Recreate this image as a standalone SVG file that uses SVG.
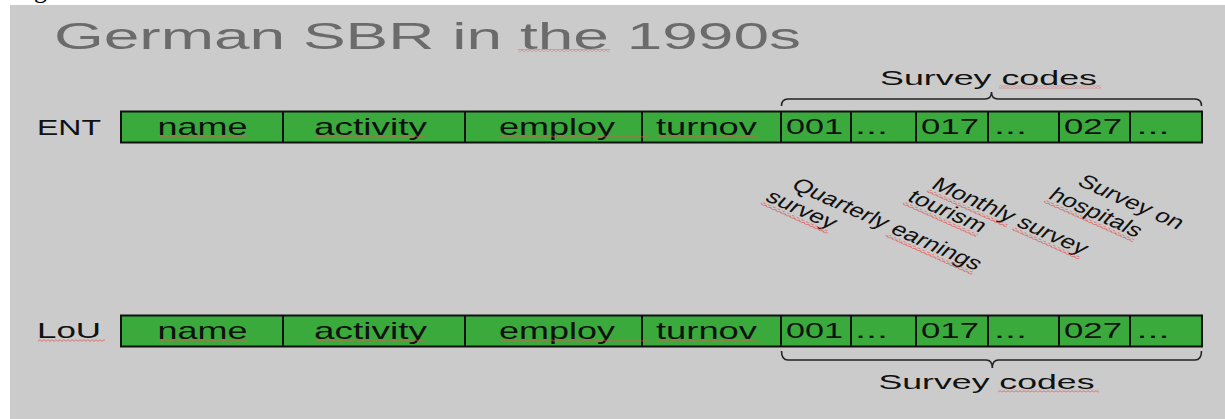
<svg xmlns="http://www.w3.org/2000/svg" width="1225" height="419" viewBox="0 0 1225 419">
  <defs>
    <!-- red wavy underline used under flagged words -->
    <pattern id="wave" patternUnits="userSpaceOnUse" width="4" height="3">
      <path d="M0,0.6 L2,2.4 L4,0.6" fill="none" stroke="#e05555" stroke-width="0.8"/>
    </pattern>
  </defs>
  <style>
    .bg { fill: #cbcbcb; }
    .title { font-family: "Liberation Sans", Arial, sans-serif; font-size: 37px; fill: #6b6b6b; }
    .lbl { font-family: "Liberation Sans", Arial, sans-serif; font-size: 22.5px; fill: #111; }
    .cell { fill: #39aa3b; stroke: #111; stroke-width: 2; }
    .div { stroke: #111; stroke-width: 2; }
    .ct { font-family: "Liberation Sans", Arial, sans-serif; font-size: 24px; fill: #111; }
    .code { font-family: "Liberation Sans", Arial, sans-serif; font-size: 22px; fill: #111; }
    .brace { fill: none; stroke: #222; stroke-width: 1.6; }
    .bt { font-family: "Liberation Sans", Arial, sans-serif; font-size: 21px; fill: #111; }
    .rot { font-family: "Liberation Sans", Arial, sans-serif; font-size: 19px; fill: #111; }
    .sq { fill: url(#wave); }
  </style>

  <!-- page margin and slide background -->
  <rect x="0" y="0" width="1225" height="419" fill="#ffffff"/>
  <rect class="bg" x="10" y="5" width="1215" height="414"/>
  <text x="34" y="-2" font-family="Liberation Serif, serif" font-size="26" fill="#000">g</text>

  <g id="title">
    <text class="title" x="54" y="48.5" textLength="747" lengthAdjust="spacingAndGlyphs">German SBR in the 1990s</text>
    <rect class="sq" x="518" y="49" width="92" height="3"/>
  </g>

  <!-- ENT record -->
  <g id="ent-row">
    <text class="lbl" x="37" y="135" textLength="64" lengthAdjust="spacingAndGlyphs">ENT</text>
    <rect class="cell" x="121" y="111.5" width="1081" height="31"/>
    <line class="div" x1="283" y1="111.5" x2="283" y2="142.5"/>
    <line class="div" x1="465" y1="111.5" x2="465" y2="142.5"/>
    <line class="div" x1="642" y1="111.5" x2="642" y2="142.5"/>
    <line class="div" x1="781" y1="111.5" x2="781" y2="142.5"/>
    <line class="div" x1="851" y1="111.5" x2="851" y2="142.5"/>
    <line class="div" x1="916" y1="111.5" x2="916" y2="142.5"/>
    <line class="div" x1="988" y1="111.5" x2="988" y2="142.5"/>
    <line class="div" x1="1059" y1="111.5" x2="1059" y2="142.5"/>
    <line class="div" x1="1130" y1="111.5" x2="1130" y2="142.5"/>
    <text class="ct" x="157.5" y="134.5" textLength="90" lengthAdjust="spacingAndGlyphs">name</text>
    <text class="ct" x="314" y="134.5" textLength="113" lengthAdjust="spacingAndGlyphs">activity</text>
    <text class="ct" x="499" y="134.5" textLength="116" lengthAdjust="spacingAndGlyphs">employ</text>
    <text class="ct" x="656" y="134.5" textLength="101" lengthAdjust="spacingAndGlyphs">turnov</text>
    <text class="code" x="786" y="134" textLength="57" lengthAdjust="spacingAndGlyphs">001</text>
    <text class="code" x="855" y="134" textLength="33" lengthAdjust="spacingAndGlyphs">...</text>
    <text class="code" x="921" y="134" textLength="58" lengthAdjust="spacingAndGlyphs">017</text>
    <text class="code" x="994" y="134" textLength="33" lengthAdjust="spacingAndGlyphs">...</text>
    <text class="code" x="1064" y="134" textLength="58" lengthAdjust="spacingAndGlyphs">027</text>
    <text class="code" x="1136.5" y="134" textLength="33" lengthAdjust="spacingAndGlyphs">...</text>
    <rect class="sq" x="159" y="135" width="88" height="3"/>
    <rect class="sq" x="315" y="135" width="111" height="3"/>
    <rect class="sq" x="500" y="135" width="150" height="3"/>
    <rect class="sq" x="657" y="135" width="100" height="3"/>
  </g>

  <!-- LoU record -->
  <g id="lou-row">
    <text class="lbl" x="37" y="338" textLength="64" lengthAdjust="spacingAndGlyphs">LoU</text>
    <rect class="sq" x="38" y="339" width="67" height="3"/>
    <rect class="cell" x="121" y="315.5" width="1081" height="31"/>
    <line class="div" x1="283" y1="315.5" x2="283" y2="346.5"/>
    <line class="div" x1="465" y1="315.5" x2="465" y2="346.5"/>
    <line class="div" x1="642" y1="315.5" x2="642" y2="346.5"/>
    <line class="div" x1="781" y1="315.5" x2="781" y2="346.5"/>
    <line class="div" x1="851" y1="315.5" x2="851" y2="346.5"/>
    <line class="div" x1="916" y1="315.5" x2="916" y2="346.5"/>
    <line class="div" x1="988" y1="315.5" x2="988" y2="346.5"/>
    <line class="div" x1="1059" y1="315.5" x2="1059" y2="346.5"/>
    <line class="div" x1="1130" y1="315.5" x2="1130" y2="346.5"/>
    <text class="ct" x="157.5" y="338.5" textLength="90" lengthAdjust="spacingAndGlyphs">name</text>
    <text class="ct" x="314" y="338.5" textLength="113" lengthAdjust="spacingAndGlyphs">activity</text>
    <text class="ct" x="499" y="338.5" textLength="116" lengthAdjust="spacingAndGlyphs">employ</text>
    <text class="ct" x="656" y="338.5" textLength="101" lengthAdjust="spacingAndGlyphs">turnov</text>
    <text class="code" x="786" y="338" textLength="57" lengthAdjust="spacingAndGlyphs">001</text>
    <text class="code" x="855" y="338" textLength="33" lengthAdjust="spacingAndGlyphs">...</text>
    <text class="code" x="921" y="338" textLength="58" lengthAdjust="spacingAndGlyphs">017</text>
    <text class="code" x="994" y="338" textLength="33" lengthAdjust="spacingAndGlyphs">...</text>
    <text class="code" x="1064" y="338" textLength="58" lengthAdjust="spacingAndGlyphs">027</text>
    <text class="code" x="1136.5" y="338" textLength="33" lengthAdjust="spacingAndGlyphs">...</text>
    <rect class="sq" x="159" y="339" width="88" height="3"/>
    <rect class="sq" x="315" y="339" width="111" height="3"/>
    <rect class="sq" x="500" y="339" width="150" height="3"/>
    <rect class="sq" x="657" y="339" width="100" height="3"/>
  </g>

  <!-- braces grouping the survey code fields -->
  <g id="connectors">
    <path class="brace" d="M781.5,106 Q781.5,99 788,99 L985,99 Q991.5,99 991.5,92 Q991.5,99 998,99 L1195,99 Q1201.5,99 1201.5,106"/>
    <path class="brace" d="M781.5,351 Q781.5,360 788,360 L986,360 Q992.3,360 992.3,368 Q992.3,360 998.5,360 L1195,360 Q1201.5,360 1201.5,351"/>
  </g>

  <g id="survey-codes-top">
    <text class="bt" x="880" y="85" textLength="217" lengthAdjust="spacingAndGlyphs">Survey codes</text>
    <rect class="sq" x="999" y="85.5" width="102" height="3"/>
  </g>
  <g id="survey-codes-bottom">
    <text class="bt" x="878.5" y="389" textLength="216" lengthAdjust="spacingAndGlyphs">Survey codes</text>
    <rect class="sq" x="998" y="389.5" width="101" height="3"/>
  </g>

  <!-- slanted survey names -->
  <g id="quarterly-earnings">
    <g transform="translate(790,188) scale(1.4,1) rotate(32)">
      <text class="rot" x="0" y="0">Quarterly earnings</text>
      <rect class="sq" x="83" y="2" width="73" height="3"/>
    </g>
    <g transform="translate(764,200) scale(1.4,1) rotate(32)">
      <text class="rot" x="0" y="0">survey</text>
      <rect class="sq" x="0" y="2" width="56" height="3"/>
    </g>
  </g>
  <g id="monthly-tourism">
    <g transform="translate(930,187.5) scale(1.4,1) rotate(32)">
      <text class="rot" x="0" y="0">Monthly survey</text>
      <rect class="sq" x="0" y="2" width="67" height="3"/>
      <rect class="sq" x="72" y="2" width="56" height="3"/>
    </g>
    <g transform="translate(906,200) scale(1.4,1) rotate(32)">
      <text class="rot" x="0" y="0">tourism</text>
      <rect class="sq" x="0" y="2" width="62" height="3"/>
    </g>
  </g>
  <g id="hospitals">
    <g transform="translate(1076,184.5) scale(1.4,1) rotate(32)">
      <text class="rot" x="0" y="0">Survey on</text>
    </g>
    <g transform="translate(1047,198) scale(1.4,1) rotate(32)">
      <text class="rot" x="0" y="0">hospitals</text>
      <rect class="sq" x="0" y="2" width="75" height="3"/>
    </g>
  </g>
</svg>
